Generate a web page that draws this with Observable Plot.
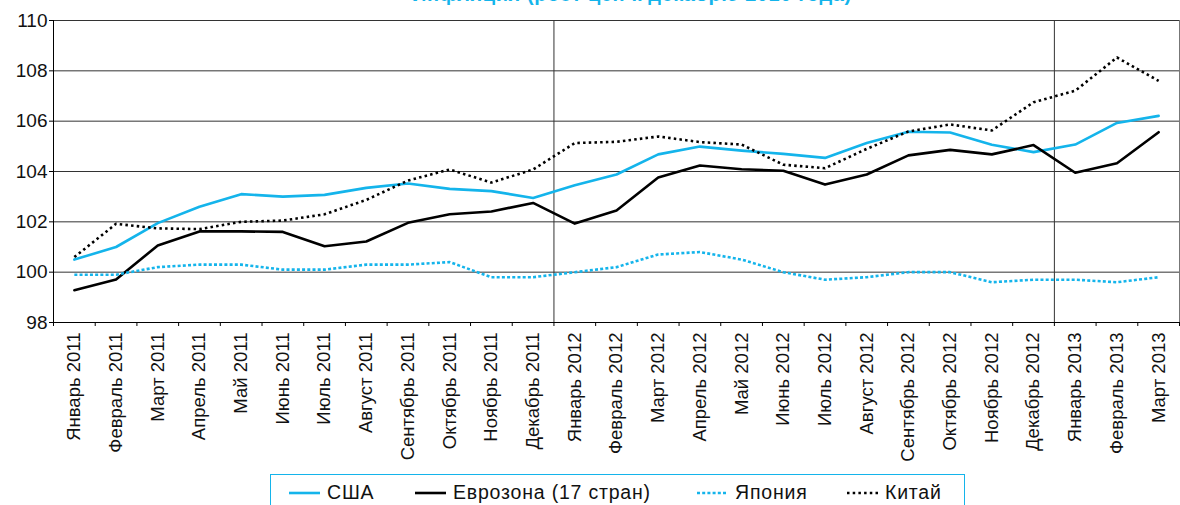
<!DOCTYPE html>
<html><head><meta charset="utf-8">
<script src="https://cdn.jsdelivr.net/npm/d3@7"></script>
<script src="https://cdn.jsdelivr.net/npm/@observablehq/plot@0.6"></script>
<style>
html,body{margin:0;padding:0;background:#fff;}
#wrap{position:relative;width:1180px;height:505px;overflow:hidden;font-family:"Liberation Sans",Arial,sans-serif;}
#title{position:absolute;left:412px;top:-16px;line-height:20px;font-size:20px;font-weight:bold;color:#14b4eb;white-space:nowrap;letter-spacing:0.6px;}
#chart{position:absolute;left:0;top:0;}
#legend{position:absolute;left:270px;top:474px;width:695px;height:44px;border:1.5px solid #14b4eb;box-sizing:border-box;font-size:19.5px;letter-spacing:0.8px;color:#111;}
.item{position:absolute;top:6px;white-space:nowrap;display:flex;align-items:center;}
.item svg{margin-right:7px;}
</style></head>
<body>
<div id="wrap">
  <div id="title">Инфляция (рост цен к декабрю 2010 года)</div>
  <div id="chart"></div>
  <div id="legend"></div>
</div>
<script>
const months = ["Январь 2011","Февраль 2011","Март 2011","Апрель 2011","Май 2011","Июнь 2011","Июль 2011","Август 2011","Сентябрь 2011","Октябрь 2011","Ноябрь 2011","Декабрь 2011",
"Январь 2012","Февраль 2012","Март 2012","Апрель 2012","Май 2012","Июнь 2012","Июль 2012","Август 2012","Сентябрь 2012","Октябрь 2012","Ноябрь 2012","Декабрь 2012",
"Январь 2013","Февраль 2013","Март 2013"];
const usa   = [100.5,101.0,101.95,102.6,103.1,103.0,103.07,103.35,103.52,103.31,103.22,102.95,103.45,103.88,104.68,104.99,104.83,104.70,104.54,105.13,105.58,105.55,105.06,104.77,105.07,105.93,106.21];
const euro  = [99.28,99.71,101.06,101.62,101.62,101.6,101.03,101.22,101.96,102.3,102.41,102.75,101.93,102.45,103.76,104.24,104.09,104.03,103.48,103.88,104.64,104.86,104.68,105.05,103.95,104.33,105.56];
const japan = [99.9,99.9,100.2,100.3,100.3,100.1,100.1,100.3,100.3,100.4,99.8,99.8,100.0,100.2,100.7,100.8,100.5,100.0,99.7,99.8,100.0,100.0,99.6,99.7,99.7,99.6,99.8];
const china = [100.6,101.92,101.74,101.71,102.0,102.05,102.3,102.87,103.64,104.08,103.56,104.08,105.13,105.18,105.39,105.17,105.07,104.27,104.13,104.9,105.59,105.87,105.63,106.75,107.21,108.53,107.6];
const seriesNames = ["США","Еврозона (17 стран)","Япония","Китай"];
const yTicks = [98,100,102,104,106,108,110];

const CYAN = "#14b4eb";
const styles = [
  {stroke: CYAN, dash: null},
  {stroke: "#000", dash: null},
  {stroke: CYAN, dash: "3,2.2"},
  {stroke: "#000", dash: "2.5,3.2"}
];
const allSeries = [usa, euro, japan, china];
const rows = allSeries.flatMap((arr, s) => arr.map((v, i) => ({x: i + 0.5, v, s})));
const centers = months.map((m, i) => i + 0.5);
const bounds = d3.range(months.length + 1);
const yearStarts = months.map((m, i) => i).filter(i => i > 0 && months[i].startsWith("Январь"));

const plot = Plot.plot({
  width: 1180, height: 470,
  marginLeft: 53, marginRight: 1, marginTop: 20, marginBottom: 148,
  style: {fontFamily: '"Liberation Sans", Arial, sans-serif', color: "#111", overflow: "visible"},
  x: {type: "linear", domain: [0, months.length], axis: null},
  y: {domain: [98, 110], axis: null},
  marks: [
    Plot.ruleY(yTicks.filter(d => d > 98), {stroke: "#333", strokeWidth: 1}),
    Plot.ruleX([months.length], {stroke: "#777", strokeWidth: 1}),
    Plot.ruleX(yearStarts, {stroke: "#333", strokeWidth: 1}),
    ...styles.map((st, s) => Plot.line(rows.filter(r => r.s === s), {
      x: "x", y: "v", stroke: st.stroke, strokeWidth: 2.6,
      strokeDasharray: st.dash, strokeLinejoin: "round", strokeLinecap: st.dash ? "butt" : "round"
    })),
    Plot.ruleX([0], {stroke: "#000", strokeWidth: 1}),
    Plot.ruleY([98], {stroke: "#000", strokeWidth: 1}),
    Plot.axisY(yTicks, {tickSize: 4, tickPadding: 2, fontSize: 19, label: null, stroke: "#000", style: {letterSpacing: "0.6px"}}),
    Plot.axisX(bounds, {tickSize: 4, tickFormat: () => "", label: null, stroke: "#000"}),
    Plot.axisX(centers, {tickSize: 0, tickPadding: 10, tickRotate: -90, fontSize: 18.5, label: null,
      tickFormat: d => months[Math.floor(d)]})
  ]
});
document.getElementById("chart").appendChild(plot);

// legend
const legend = document.getElementById("legend");
const lx = [18, 144, 426, 576];
seriesNames.forEach((name, s) => {
  const st = styles[s];
  const div = document.createElement("div");
  div.className = "item";
  div.style.left = lx[s] + "px";
  div.innerHTML = `<svg width="31" height="10"><line x1="0" x2="31" y1="5" y2="5" stroke="${st.stroke}" stroke-width="2.6" ${st.dash ? `stroke-dasharray="${st.dash}"` : ""}/></svg><span>${name}</span>`;
  legend.appendChild(div);
});
</script>
</body></html>
